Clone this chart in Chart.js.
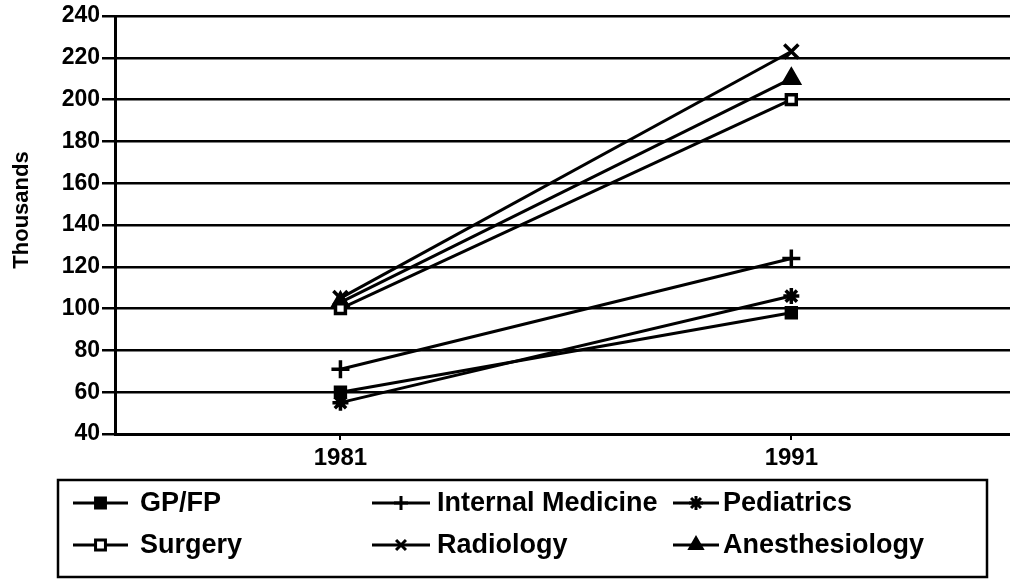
<!DOCTYPE html>
<html>
<head>
<meta charset="utf-8">
<script src="https://cdn.jsdelivr.net/npm/chart.js@4/dist/chart.umd.min.js"></script>
<style>
  html, body { margin: 0; padding: 0; background: #fff; }
  #wrap { width: 1010px; height: 579px; position: relative; }
</style>
</head>
<body>
<div id="wrap"><canvas id="c"></canvas></div>
<script>
// ---- Data ----
const years = [1981, 1991];
const yTickValues = [40, 60, 80, 100, 120, 140, 160, 180, 200, 220, 240];
const seriesNames = ["GP/FP", "Internal Medicine", "Pediatrics", "Surgery", "Radiology", "Anesthesiology"];
const gpfp = [60, 98];
const internalMedicine = [71, 124];
const pediatrics = [55, 106];
const surgery = [100, 200];
const radiology = [105, 223];
const anesthesiology = [103, 210];
const axisTitle = "Thousands";

// ---- Styles ----
const seriesValues = [gpfp, internalMedicine, pediatrics, surgery, radiology, anesthesiology];
const seriesPointStyles = ["rect", "cross", "star", "rect", "crossRot", "triangle"];
const seriesFills = ["#000", "#000", "#000", "#fff", "#000", "#000"];
const seriesRadius = [7, 9, 8, 7, 10, 9];

const FONT = "'Liberation Sans', Arial, Helvetica, sans-serif";

const datasets = seriesNames.map((name, i) => ({
  label: name,
  data: years.map((yr, j) => ({ x: yr, y: seriesValues[i][j] })),
  borderColor: "#000",
  borderWidth: 3,
  pointStyle: seriesPointStyles[i],
  pointRadius: seriesRadius[i],
  pointBackgroundColor: seriesFills[i],
  pointBorderColor: "#000",
  pointBorderWidth: 3.5,
  tension: 0,
  fill: false,
  clip: false
}));

const sidePlugin = {
  id: "sidePlugin",
  afterDraw(chart) {
    const ctx = chart.ctx;
    ctx.save();
    // Y axis title
    ctx.fillStyle = "#000";
    ctx.font = "bold 22px " + FONT;
    ctx.textAlign = "center";
    ctx.textBaseline = "middle";
    ctx.translate(22, 210);
    ctx.rotate(-Math.PI / 2);
    ctx.fillText(axisTitle, 0, 0);
    ctx.restore();

    // Legend box
    ctx.save();
    ctx.strokeStyle = "#000";
    ctx.lineWidth = 2.5;
    ctx.strokeRect(58, 480, 929, 97);
    const rowsY = [503, 545];
    const markX = [73, 372, 673];
    const markLen = [55, 58, 46];
    const textX = [140, 437, 723];
    chart.data.datasets.forEach((ds, i) => {
      const r = Math.floor(i / 3), c = i % 3;
      const y = rowsY[r];
      ctx.strokeStyle = "#000";
      ctx.lineWidth = 3;
      ctx.beginPath();
      ctx.moveTo(markX[c], y);
      ctx.lineTo(markX[c] + markLen[c], y);
      ctx.stroke();
      ctx.fillStyle = ds.pointBackgroundColor;
      ctx.strokeStyle = "#000";
      ctx.lineWidth = 3;
      Chart.helpers.drawPoint(ctx, {
        pointStyle: ds.pointStyle,
        radius: Math.min(ds.pointRadius, 7),
        rotation: 0,
        borderWidth: 3
      }, markX[c] + markLen[c] / 2, y);
      ctx.fillStyle = "#000";
      ctx.font = "bold 27px " + FONT;
      ctx.textAlign = "left";
      ctx.textBaseline = "middle";
      ctx.fillText(ds.label, textX[c], y + 1);
    });
    ctx.restore();
  }
};

new Chart(document.getElementById("c"), {
  type: "line",
  data: { datasets },
  plugins: [sidePlugin],
  options: {
    responsive: true,
    maintainAspectRatio: false,
    animation: false,
    events: [],
    layout: { autoPadding: false, padding: { top: 16, right: 0, left: 0, bottom: 0 } },
    plugins: { legend: { display: false }, tooltip: { enabled: false }, title: { display: false } },
    scales: {
      x: {
        type: "linear",
        min: 1976,
        max: 1995.85,
        afterBuildTicks(scale) { scale.ticks = years.map(v => ({ value: v })); },
        afterFit(scale) { scale.height = 579 - 434; },
        grid: { display: true, drawOnChartArea: false, drawTicks: true, tickLength: 6, color: "#000", lineWidth: 2 },
        border: { display: true, color: "#000", width: 3 },
        ticks: {
          color: "#000",
          padding: 4,
          maxRotation: 0,
          autoSkip: false,
          font: { family: FONT, size: 24, weight: "bold" },
          callback: v => String(v)
        }
      },
      y: {
        type: "linear",
        min: 40,
        max: 240,
        afterBuildTicks(scale) { scale.ticks = yTickValues.map(v => ({ value: v })); },
        afterFit(scale) { scale.width = 115; },
        grid: { display: true, drawOnChartArea: true, drawTicks: true, tickLength: 13, color: "#000", lineWidth: 2.5 },
        border: { display: true, color: "#000", width: 3 },
        ticks: {
          color: "#000",
          padding: 2,
          font: { family: FONT, size: 23, weight: "bold" },
          callback: v => String(v)
        }
      }
    }
  }
});
</script>
</body>
</html>
